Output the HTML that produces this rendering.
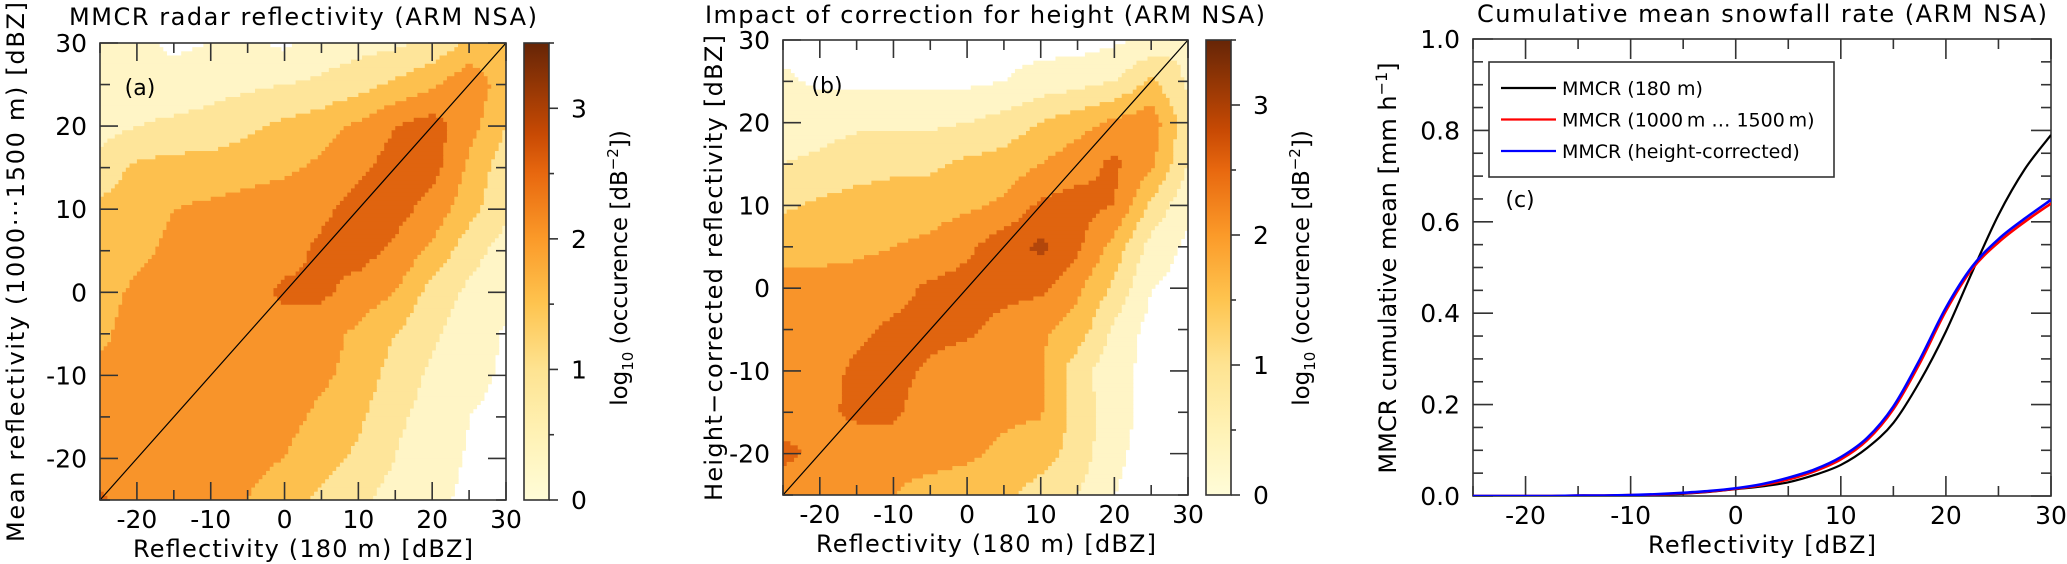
<!DOCTYPE html>
<html><head><meta charset="utf-8">
<style>
html,body{margin:0;padding:0;background:#fff;}
svg{display:block;font-family:"DejaVu Sans","Liberation Sans",sans-serif;}
</style></head>
<body>
<svg id="fig" width="2067" height="564" viewBox="0 0 2067 564" xmlns="http://www.w3.org/2000/svg">
<defs>
<linearGradient id="cbgrad" x1="0" y1="1" x2="0" y2="0">
<stop offset="0" stop-color="#fffcd8"/>
<stop offset="0.143" stop-color="#fff2b5"/>
<stop offset="0.286" stop-color="#fee391"/>
<stop offset="0.429" stop-color="#fec44f"/>
<stop offset="0.571" stop-color="#fb9a29"/>
<stop offset="0.714" stop-color="#e8680f"/>
<stop offset="0.8" stop-color="#c84a04"/>
<stop offset="1" stop-color="#662506"/>
</linearGradient>
<clipPath id="clipA"><rect x="100" y="43" width="406" height="457"/></clipPath>
<clipPath id="clipB"><rect x="783" y="40" width="405" height="455"/></clipPath>
<clipPath id="clipC"><rect x="1473" y="39" width="578" height="457"/></clipPath>
</defs>
<g id="root"></g>
</svg>
<script>
// ---------- data ----------
const gridX = [-25,-20,-15,-10,-5,0,5,10,15,20,25,30];
const gridY = [30,25,20,15,10,5,0,-5,-10,-15,-20,-25];
const levelBounds = [0.5,1,1.5,2,2.5,3];
const tickLabelsXY = [-20,-10,0,10,20,30];
const tickLabelsYXY = [30,20,10,0,-10,-20];
const cbTicks = [0,1,2,3];
const densityA = [
[0.7,0.6,0.4,0.5,0.6,0.4,0.7,0.8,0.9,1.1,1.6,1.8],
[0.8,0.7,0.7,0.8,0.9,1.0,1.1,1.3,1.6,1.9,2.4,1.7],
[0.8,1.0,1.1,1.2,1.4,1.6,1.8,2.1,2.5,2.75,2.2,1.5],
[1.2,1.6,1.7,1.7,1.8,1.9,2.1,2.4,2.7,2.7,1.9,1.2],
[1.6,1.8,2.0,2.1,2.2,2.3,2.4,2.7,2.7,2.3,1.7,1.1],
[1.7,1.9,2.1,2.2,2.2,2.3,2.6,2.7,2.4,1.9,1.2,0.8],
[1.8,2.1,2.2,2.2,2.3,2.6,2.6,2.3,2.0,1.3,0.9,0.6],
[1.9,2.2,2.2,2.3,2.3,2.3,2.2,1.9,1.5,1.1,0.7,0.45],
[2.1,2.2,2.3,2.3,2.3,2.2,2.1,1.8,1.3,0.9,0.6,0.45],
[2.1,2.2,2.3,2.3,2.2,2.15,1.9,1.6,1.1,0.8,0.5,0.4],
[2.2,2.2,2.3,2.2,2.15,2.0,1.7,1.4,1.0,0.7,0.45,0.4],
[2.6,2.2,2.2,2.1,2.0,1.7,1.4,1.1,0.8,0.6,0.4,0.4]
];
const densityB = [
[0.3,0.3,0.3,0.3,0.3,0.3,0.3,0.3,0.3,0.4,0.6,1.0],
[0.6,0.4,0.4,0.4,0.4,0.4,0.5,0.7,0.8,1.0,1.6,0.9],
[0.8,0.8,0.9,0.9,0.9,1.0,1.2,1.5,1.8,2.1,2.3,1.2],
[1.0,1.1,1.3,1.4,1.4,1.6,1.7,2.0,2.3,2.6,2.1,1.0],
[1.4,1.6,1.7,1.7,1.8,1.9,2.1,2.6,2.7,2.5,1.4,0.6],
[1.9,1.9,1.9,2.0,2.1,2.4,2.8,3.1,2.6,1.8,0.8,0.4],
[2.1,2.1,2.2,2.3,2.6,2.7,2.7,2.6,2.1,1.4,0.5,0.3],
[2.2,2.2,2.4,2.6,2.7,2.6,2.3,2.1,1.8,0.9,0.3,0.3],
[2.2,2.3,2.6,2.7,2.4,2.2,2.2,2.05,1.2,0.7,0.3,0.3],
[2.3,2.4,2.6,2.6,2.2,2.2,2.1,2.05,1.3,0.7,0.3,0.3],
[2.6,2.4,2.2,2.2,2.2,2.1,1.9,1.7,1.3,0.6,0.3,0.3],
[2.3,2.2,2.1,2.0,1.8,1.7,1.6,1.3,1.0,0.5,0.3,0.3]
];
const cumX = [-25,-22.5,-20,-17.5,-15,-12.5,-10,-7.5,-5,-2.5,0,2.5,5,7.5,10,12.5,15,17.5,20,22.5,25,27.5,30];
const cumBlack = [0,0,0,0,0.001,0.001,0.002,0.003,0.005,0.009,0.015,0.021,0.03,0.046,0.068,0.105,0.16,0.25,0.36,0.49,0.615,0.715,0.79];
const cumRed   = [0,0,0,0,0.001,0.001,0.002,0.003,0.006,0.01,0.016,0.024,0.036,0.054,0.08,0.122,0.19,0.29,0.405,0.497,0.555,0.6,0.64];
const cumBlue  = [0,0,0,0,0.001,0.001,0.002,0.004,0.007,0.011,0.017,0.026,0.04,0.058,0.085,0.127,0.196,0.298,0.412,0.502,0.562,0.607,0.648];
const cumTicksX = [-20,-10,0,10,20,30];
const cumTicksY = [0,0.2,0.4,0.6,0.8,1.0];
const legendLabels = ["MMCR (180 m)","MMCR (1000\u2009m \u2026 1500\u2009m)","MMCR (height-corrected)"];
const levelColors = ["#ffffff","#fff5c6","#fee59a","#fdc04e","#f8942a","#e0640f","#b2460b"];

// ---------- helpers ----------
const NS = "http://www.w3.org/2000/svg";
const root = document.getElementById('root');
function mk(tag, attrs, parent){
  const e = document.createElementNS(NS, tag);
  for (const k in attrs) e.setAttribute(k, attrs[k]);
  (parent||root).appendChild(e);
  return e;
}
function txt(s, attrs, parent){ const e = mk('text', attrs, parent); e.textContent = s; return e; }

function interp(grid, x, y){
  let fi = (x - gridX[0]) / 5, fj = (gridY[0] - y) / 5;
  fi = Math.max(0, Math.min(gridX.length-1.0001, fi));
  fj = Math.max(0, Math.min(gridY.length-1.0001, fj));
  const i = Math.floor(fi), j = Math.floor(fj), u = fi-i, v = fj-j;
  return grid[j][i]*(1-u)*(1-v) + grid[j][i+1]*u*(1-v) + grid[j+1][i]*(1-u)*v + grid[j+1][i+1]*u*v;
}
function levelOf(v){ let k = 0; for (const b of levelBounds) if (v >= b) k++; return k; }

function heatPanel(p, grid, name){
  const sx = v => p.x0 + (v - p.xmin)/(p.xmax - p.xmin)*(p.x1 - p.x0);
  const sy = v => p.y1 - (v - p.ymin)/(p.ymax - p.ymin)*(p.y1 - p.y0);
  const g = mk('g', {'clip-path':`url(#${p.clip})`});
  
  
  const step = 0.5;
  for (let y = p.ymax; y > p.ymin - 1e-9; y -= step){
    let runStart = p.xmin, runLev = levelOf(interp(grid, p.xmin + step/2, y - step/2));
    for (let x = p.xmin + step; x <= p.xmax + 1e-9; x += step){
      const lev = x >= p.xmax - 1e-9 ? -1 : levelOf(interp(grid, x + step/2, y - step/2));
      if (lev !== runLev){
        if (runLev > 0){
          const r = mk('rect', {x:sx(runStart), y:sy(y), width:sx(x)-sx(runStart)+0.6, height:sy(y-step)-sy(y)+0.6, fill:levelColors[runLev]}, g);
          
          
        }
        runStart = x; runLev = lev;
      }
    }
  }
  const d = mk('line', {x1:sx(p.xmin), y1:sy(p.ymin), x2:sx(p.xmax), y2:sy(p.ymax), stroke:'#000', 'stroke-width':1.2}, g);
  
  
  return {sx, sy};
}

function frame(p, name, xt, yt, xminor, yminor, major, minor, xlabfmt, ylabfmt){
  const sx = v => p.x0 + (v - p.xmin)/(p.xmax - p.xmin)*(p.x1 - p.x0);
  const sy = v => p.y1 - (v - p.ymin)/(p.ymax - p.ymin)*(p.y1 - p.y0);
  const g = mk('g', {stroke:'#333','stroke-width':1.6, fill:'none'});
  
  
  mk('rect', {x:p.x0, y:p.y0, width:p.x1-p.x0, height:p.y1-p.y0}, g);
  for (const v of xminor){
    const X = sx(v); const isMaj = xt.some(t => Math.abs(t-v) < 1e-9); const L = isMaj ? major : minor;
    mk('line', {x1:X, y1:p.y1, x2:X, y2:p.y1-L}, g);
    mk('line', {x1:X, y1:p.y0, x2:X, y2:p.y0+L}, g);
  }
  for (const v of yminor){
    const Y = sy(v); const isMaj = yt.some(t => Math.abs(t-v) < 1e-9); const L = isMaj ? major : minor;
    mk('line', {x1:p.x0, y1:Y, x2:p.x0+L, y2:Y}, g);
    mk('line', {x1:p.x1, y1:Y, x2:p.x1-L, y2:Y}, g);
  }
  for (const v of xt){
    const t = txt(xlabfmt(v), {x:sx(v), y:p.y1+28, 'text-anchor':'middle', 'font-size':25, fill:'#000'});
    
    
  }
  for (const v of yt){
    const t = txt(ylabfmt(v), {x:p.x0-13, y:sy(v)+9, 'text-anchor':'end', 'font-size':25, fill:'#000'});
    
    
  }
}

function colorbar(cb, name){
  const sy = v => cb.y1 - v/3.5*(cb.y1-cb.y0);
  const r = mk('rect', {x:cb.x0, y:cb.y0, width:cb.x1-cb.x0, height:cb.y1-cb.y0, fill:'url(#cbgrad)', stroke:'#333','stroke-width':1.6});
  
  
  for (let v = 0; v <= 3.5001; v += 0.5){
    const maj = Math.abs(v - Math.round(v)) < 1e-9;
    mk('line', {x1:cb.x1, y1:sy(v), x2:cb.x1 + (maj?9:5), y2:sy(v), stroke:'#333','stroke-width':1.6});
  }
  for (const v of cbTicks){
    const t = txt(String(v), {x:cb.x1+30, y:sy(v)+9, 'text-anchor':'middle','font-size':25});
    
    
  }
  const lab = mk('text', {transform:`translate(${cb.lx},268) rotate(-90)`, 'text-anchor':'middle','font-size':23});
  
  
  lab.innerHTML = 'log<tspan font-size="15" dy="6">10</tspan><tspan dy="-6"> (occurence [dB</tspan><tspan font-size="15" dy="-9">\u22122</tspan><tspan dy="9">])</tspan>';
}

// ---------- panel a ----------
const PA = {x0:100, x1:506, y0:43, y1:500, xmin:-25, xmax:30, ymin:-25, ymax:30, clip:'clipA'};
heatPanel(PA, densityA, 'panel-a');
const minor5 = []; for (let v=-25; v<=30; v+=5) minor5.push(v);
frame(PA, 'panel-a', tickLabelsXY, tickLabelsYXY, minor5, minor5, 18, 10, String, String);
colorbar({x0:524, x1:549, y0:43, y1:500, lx:627}, 'panel-a');
let t;
t = txt('MMCR radar reflectivity (ARM NSA)', {x:303, y:25, 'text-anchor':'middle','font-size':24, textLength:468});
 
t = txt('(a)', {x:140, y:95, 'text-anchor':'middle','font-size':22});
 
t = txt('Reflectivity (180 m) [dBZ]', {x:303, y:557, 'text-anchor':'middle','font-size':24, textLength:340});
 
t = txt('Mean reflectivity (1000\u00b7\u00b7\u00b71500 m) [dBZ]', {transform:'translate(24,272) rotate(-90)', 'text-anchor':'middle','font-size':24, textLength:540});
 

// ---------- panel b ----------
const PB = {x0:783, x1:1188, y0:40, y1:495, xmin:-25, xmax:30, ymin:-25, ymax:30, clip:'clipB'};
heatPanel(PB, densityB, 'panel-b');
frame(PB, 'panel-b', tickLabelsXY, tickLabelsYXY, minor5, minor5, 18, 10, String, String);
colorbar({x0:1206, x1:1231, y0:40, y1:495, lx:1309}, 'panel-b');
t = txt('Impact of correction for height (ARM NSA)', {x:985, y:23, 'text-anchor':'middle','font-size':24, textLength:560});
 
t = txt('(b)', {x:827, y:93, 'text-anchor':'middle','font-size':22});
 
t = txt('Reflectivity (180 m) [dBZ]', {x:986, y:552, 'text-anchor':'middle','font-size':24, textLength:340});
 
t = txt('Height\u2212corrected reflectivity [dBZ]', {transform:'translate(722,268) rotate(-90)', 'text-anchor':'middle','font-size':24, textLength:466});
 

// ---------- panel c ----------
const PC = {x0:1473, x1:2051, y0:39, y1:496, xmin:-25, xmax:30, ymin:0, ymax:1, clip:'clipC'};
const yMinorC = []; for (let k=0; k<=20; k++) yMinorC.push(k*0.05);
frame(PC, 'panel-c', cumTicksX, cumTicksY, minor5, yMinorC, 20, 10, String, v => v.toFixed(1));
const csx = v => PC.x0 + (v - PC.xmin)/(PC.xmax-PC.xmin)*(PC.x1-PC.x0);
const csy = v => PC.y1 - (v - PC.ymin)/(PC.ymax-PC.ymin)*(PC.y1-PC.y0);
function smoothPath(xs, ys){
  const P = xs.map((x,i)=>[csx(x), csy(ys[i])]);
  let d = `M${P[0][0]},${P[0][1]}`;
  for (let i=0;i<P.length-1;i++){
    const p0=P[Math.max(0,i-1)], p1=P[i], p2=P[i+1], p3=P[Math.min(P.length-1,i+2)];
    const c1=[p1[0]+(p2[0]-p0[0])/6, p1[1]+(p2[1]-p0[1])/6];
    const c2=[p2[0]-(p3[0]-p1[0])/6, p2[1]-(p3[1]-p1[1])/6];
    d += ` C${c1[0]},${c1[1]} ${c2[0]},${c2[1]} ${p2[0]},${p2[1]}`;
  }
  return d;
}
const cg = mk('g', {'clip-path':'url(#clipC)'});
let pth;
pth = mk('path', {d:smoothPath(cumX, cumBlack), stroke:'#000', 'stroke-width':2.2, fill:'none'}, cg);
 
pth = mk('path', {d:smoothPath(cumX, cumRed), stroke:'#ff0000', 'stroke-width':2.6, fill:'none'}, cg);
 
pth = mk('path', {d:smoothPath(cumX, cumBlue), stroke:'#0000ff', 'stroke-width':2.6, fill:'none'}, cg);
 

const lg = mk('g', {});
 
mk('rect', {x:1489, y:62, width:345, height:115, fill:'#fff', stroke:'#333','stroke-width':1.6}, lg);
const legColors = ['#000','#ff0000','#0000ff'];
legendLabels.forEach((s,i)=>{
  const y = 88 + i*31.5;
  const e = mk('g', {}, lg);
   
  mk('line', {x1:1501, y1:y, x2:1556, y2:y, stroke:legColors[i], 'stroke-width':2.2}, e);
  txt(s, {x:1562, y:y+7, 'font-size':19}, e);
});
t = txt('(c)', {x:1520, y:207, 'text-anchor':'middle','font-size':22});
 
t = txt('Cumulative mean snowfall rate (ARM NSA)', {x:1762, y:22, 'text-anchor':'middle','font-size':24, textLength:570});
 
t = txt('Reflectivity [dBZ]', {x:1762, y:553, 'text-anchor':'middle','font-size':24, textLength:228});
 
const yl = mk('text', {transform:'translate(1396,268) rotate(-90)', 'text-anchor':'middle','font-size':24});
 
yl.innerHTML = 'MMCR cumulative mean [mm h<tspan font-size="16" dy="-9">\u22121</tspan><tspan dy="9">]</tspan>';
</script>
</body></html>
